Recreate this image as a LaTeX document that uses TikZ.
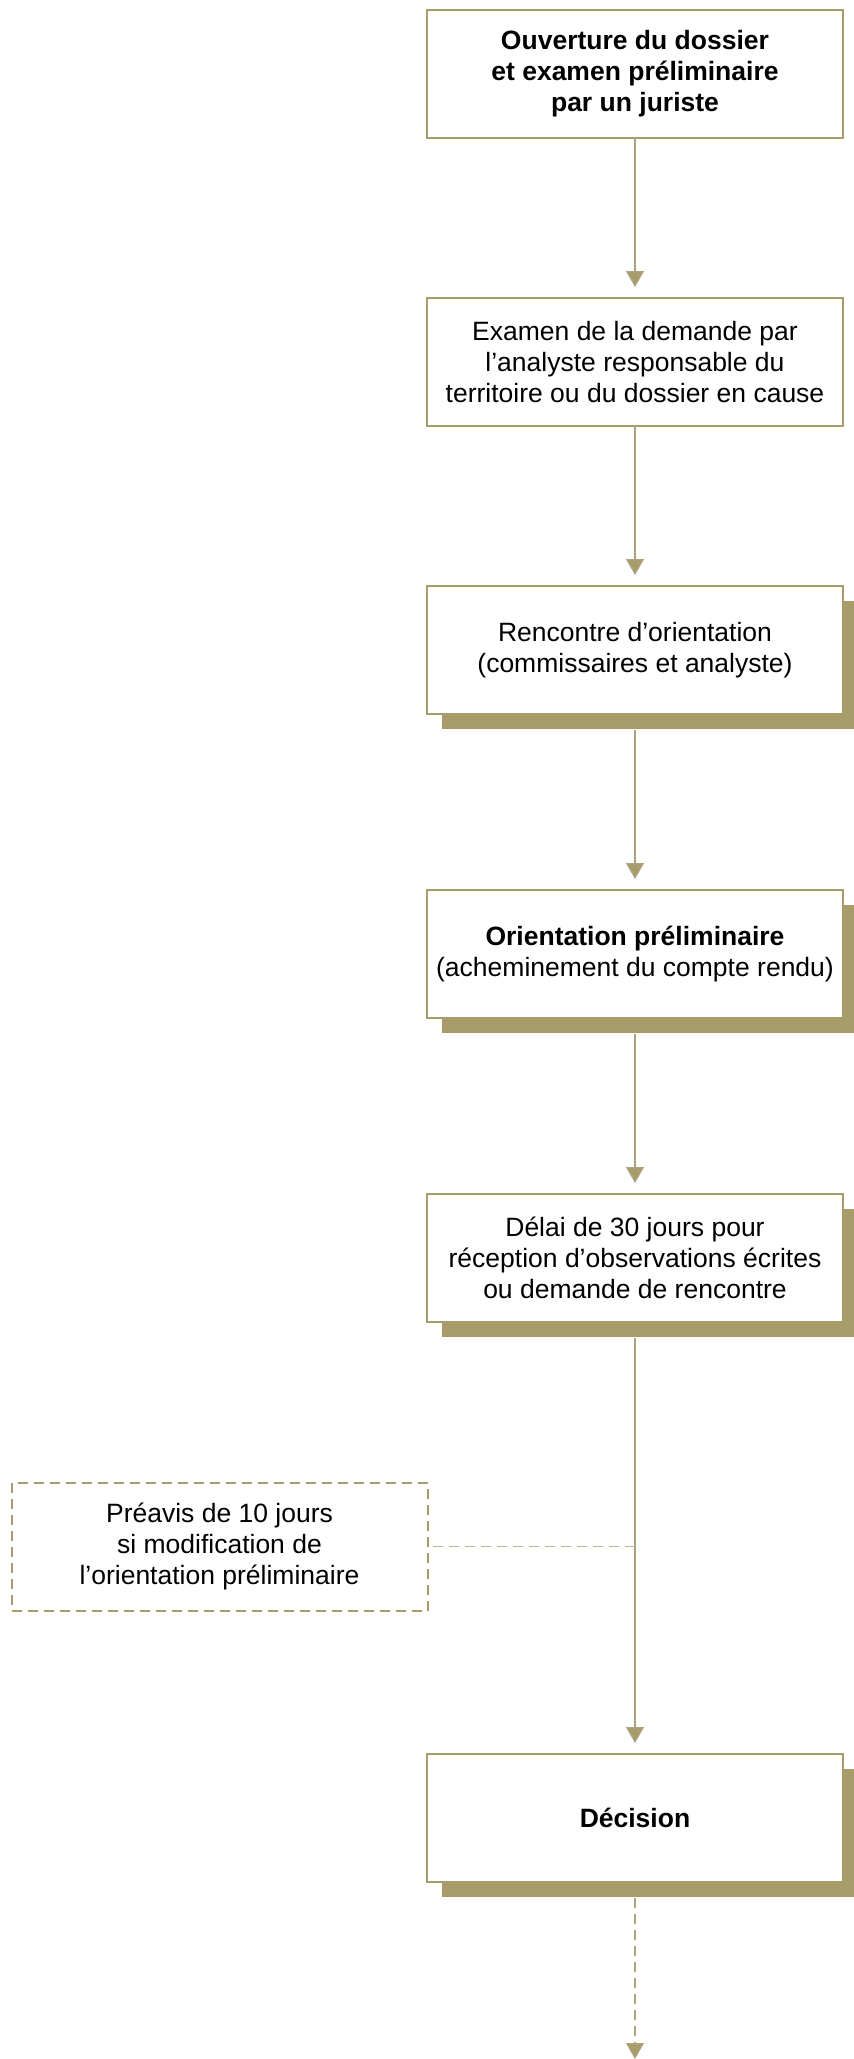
\documentclass[tikz,border=0pt]{standalone}
\usepackage{fontspec}
\setmainfont{Liberation Sans}
\usetikzlibrary{arrows.meta,shadows}
\definecolor{gold}{RGB}{169,156,107}
\definecolor{goldline}{RGB}{172,162,124}
\definecolor{golddash}{RGB}{188,178,138}
\begin{document}
\begin{tikzpicture}[x=1pt,y=-1pt,
  stepbox/.style={draw=gold, line width=2pt, fill=white, minimum width=416pt, minimum height=128pt,
    inner sep=0pt, align=center, font=\fontsize{26.5}{31}\selectfont},
  shadowbox/.style={stepbox, drop shadow={shadow xshift=15pt, shadow yshift=-15pt, fill=gold, opacity=1}},
  notebox/.style={stepbox, dash pattern=on 10pt off 6pt},
  flow/.style={draw=goldline, line width=1.3pt, -{Triangle[width=18pt,length=16pt,fill=gold]}},
  flowdash/.style={flow, dash pattern=on 10pt off 6pt},
  branch/.style={draw=golddash, line width=1.2pt, dash pattern=on 10pt off 6pt}
]
\useasboundingbox (0,0) rectangle (854,2059);

\node[stepbox]   (b1) at (635,74)   {\bfseries Ouverture du dossier\\\bfseries et examen préliminaire\\\bfseries par un juriste};
\node[stepbox]   (b2) at (635,362)  {Examen de la demande par\\l’analyste responsable du\\territoire ou du dossier en cause};
\node[shadowbox] (b3) at (635,650)  {Rencontre d’orientation\\(commissaires et analyste)};
\node[shadowbox] (b4) at (635,954)  {\bfseries Orientation préliminaire\\(acheminement du compte rendu)};
\node[shadowbox] (b5) at (635,1258) {Délai de 30 jours pour\\réception d’observations écrites\\ou demande de rencontre};
\node[notebox]   (d)  at (219.5,1546.5) {Préavis de 10 jours\\si modification de\\l’orientation préliminaire};
\node[shadowbox] (b6) at (635,1818) {\bfseries Décision};

\coordinate (j) at (b5.south |- d.east);
\coordinate (end) at (635,2059);

\draw[flow] (b1.south) -- ([yshift=10pt]b2.north);
\draw[flow] (b2.south) -- ([yshift=10pt]b3.north);
\draw[flow, shorten <=15pt] (b3.south) -- ([yshift=10pt]b4.north);
\draw[flow, shorten <=15pt] (b4.south) -- ([yshift=10pt]b5.north);
\draw[flow, shorten <=15pt] (b5.south) -- ([yshift=10pt]b6.north);
\draw[branch] (j) -- (d.east);
\draw[flowdash, shorten <=15pt] (b6.south) -- (end);
\end{tikzpicture}
\end{document}
